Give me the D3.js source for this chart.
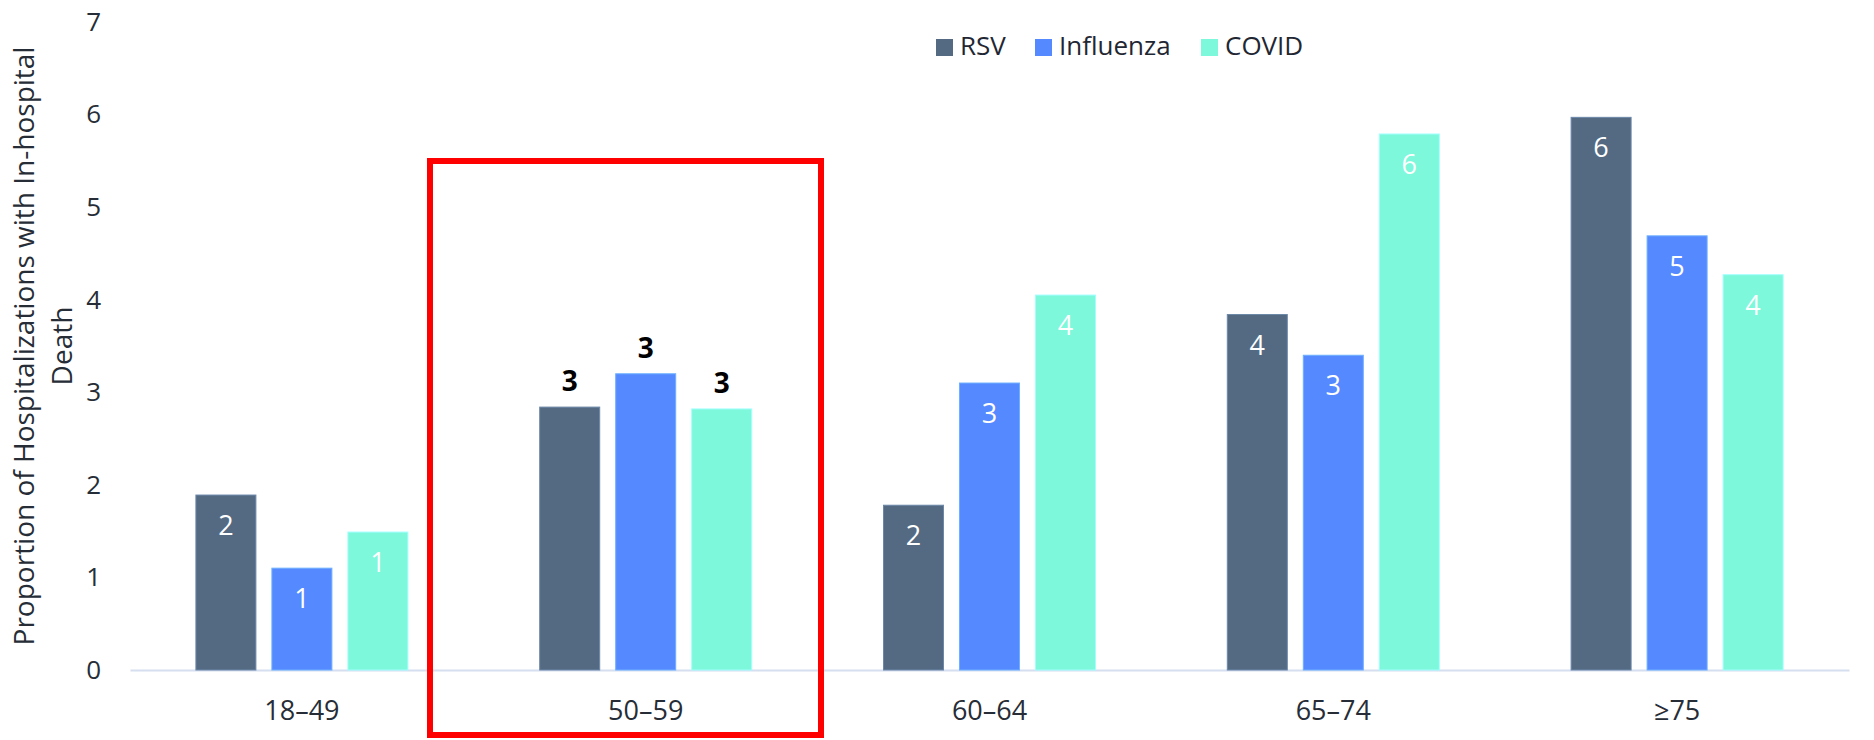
<!DOCTYPE html>
<html>
<head>
<meta charset="utf-8">
<script src="https://cdn.jsdelivr.net/npm/d3@7"></script>
<style>
  body { margin: 0; background: #fff; }
  svg { display: block; font-family: "Open Sans", sans-serif; }
</style>
</head>
<body>
<svg width="1874" height="740"></svg>
<script>
// data
let ageGroups = ["18–49", "50–59", "60–64", "65–74", "≥75"]
let series = ["RSV", "Influenza", "COVID"]
let rsv = [1.89, 2.84, 1.78, 3.84, 5.97]
let influenza = [1.10, 3.20, 3.10, 3.40, 4.69]
let covid = [1.49, 2.82, 4.05, 5.79, 4.27]
let yTicks = [0, 1, 2, 3, 4, 5, 6, 7]
let highlighted = "50–59"

let colors = ["#546a83", "#5589ff", "#7df8da"]
let values = [rsv, influenza, covid]

let svg = d3.select("svg")

let x0 = d3.scaleBand().domain(ageGroups).range([130, 1849]).paddingInner(0).paddingOuter(0)
let groupW = 212
let x1 = d3.scaleBand().domain(series).range([0, groupW]).paddingInner(16 / 76)
let y = d3.scaleLinear().domain([0, 7]).range([670, 22])
let color = d3.scaleOrdinal().domain(series).range(colors)

// rows
let rows = []
ageGroups.forEach((g, i) => {
    series.forEach((s, j) => {
        rows.push({group: g, serie: s, value: values[j][i]})
    })
})

// y axis (no line, no ticks)
let yAxis = svg.append("g")
    .attr("transform", "translate(101,0)")
    .call(d3.axisLeft(y).tickValues(yTicks).tickSize(0).tickPadding(0).tickFormat(d3.format("d")))
yAxis.select(".domain").remove()
yAxis.selectAll("text")
    .attr("font-size", 26)
    .attr("font-family", "Open Sans")
    .attr("fill", "#262d36")

// x axis
let xAxis = svg.append("g")
    .attr("transform", "translate(0,670)")
    .call(d3.axisBottom(x0).tickSize(0).tickPadding(0))
xAxis.select(".domain").attr("stroke", "#d6dff0").attr("stroke-width", 2)
xAxis.selectAll("text")
    .attr("font-size", 27)
    .attr("font-family", "Open Sans")
    .attr("fill", "#262d36")
    .attr("dy", 0)
    .attr("y", 50)

// bars
let groups = svg.append("g").selectAll("g")
    .data(ageGroups)
    .join("g")
    .attr("transform", d => `translate(${x0(d) + (x0.bandwidth() - groupW) / 2},0)`)

groups.selectAll("rect")
    .data(g => rows.filter(r => r.group == g))
    .join("rect")
    .attr("x", d => x1(d.serie))
    .attr("y", d => y(d.value))
    .attr("width", x1.bandwidth())
    .attr("height", d => y(0) - y(d.value))
    .attr("fill", d => color(d.serie))
    .attr("stroke", d => d3.color(color(d.serie)).brighter(0.7))
    .attr("stroke-width", 1)

// labels
groups.selectAll("text")
    .data(g => rows.filter(r => r.group == g))
    .join("text")
    .attr("x", d => x1(d.serie) + x1.bandwidth() / 2)
    .attr("y", d => d.group == highlighted ? y(d.value) - 16 : y(d.value) + 40)
    .attr("text-anchor", "middle")
    .attr("font-size", d => d.group == highlighted ? 28 : 27)
    .attr("font-weight", d => d.group == highlighted ? "bold" : "normal")
    .attr("fill", d => d.group == highlighted ? "#000" : "#fff")
    .text(d => d3.format(".0f")(d.value))

// legend
let legendX = [936, 1035, 1201]
let legend = svg.append("g").selectAll("g")
    .data(series)
    .join("g")
    .attr("transform", (d, i) => `translate(${legendX[i]},39)`)
legend.append("rect")
    .attr("width", 17).attr("height", 17)
    .attr("fill", d => color(d))
legend.append("text")
    .attr("x", 24).attr("y", 16)
    .attr("font-size", 26)
    .attr("fill", "#1f2733")
    .text(d => d)

// y title
let title = svg.append("text")
    .attr("transform", "rotate(-90)")
    .attr("text-anchor", "middle")
    .attr("font-size", 28)
    .attr("fill", "#262d36")
title.append("tspan").attr("x", -346).attr("y", 34).text("Proportion of Hospitalizations with In-hospital")
title.append("tspan").attr("x", -346).attr("y", 72).text("Death")

// red highlight box
svg.append("rect")
    .attr("x", 430).attr("y", 161)
    .attr("width", 391).attr("height", 574)
    .attr("fill", "none")
    .attr("stroke", "#ff0000")
    .attr("stroke-width", 6)
</script>
</body>
</html>
